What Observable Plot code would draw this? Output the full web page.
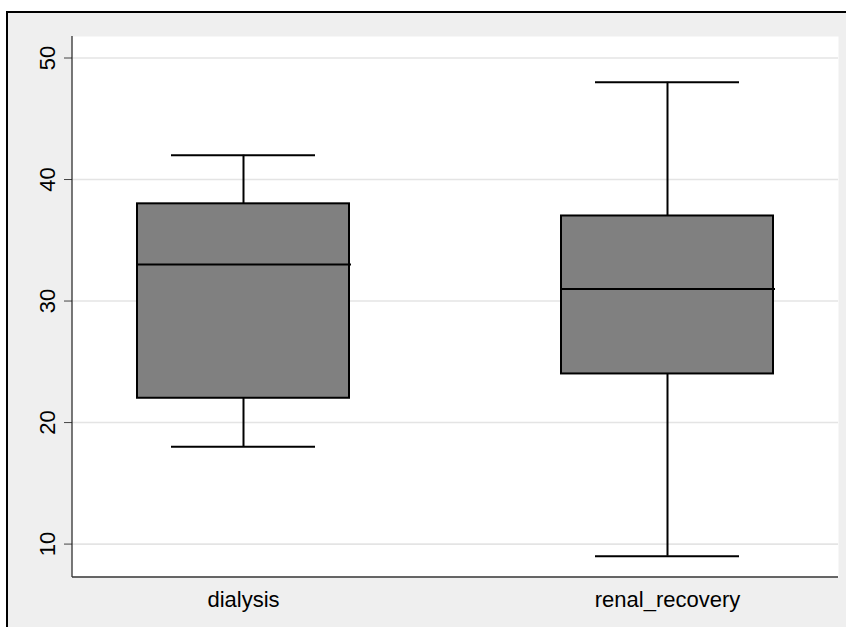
<!DOCTYPE html>
<html>
<head>
<meta charset="utf-8">
<script src="https://cdn.jsdelivr.net/npm/d3@7"></script>
<script src="https://cdn.jsdelivr.net/npm/@observablehq/plot@0.6"></script>
<style>
  html, body { margin: 0; padding: 0; background: #ffffff; }
  #page { position: relative; width: 846px; height: 627px; overflow: hidden; background: #ffffff; }
  #panel { position: absolute; left: 6px; top: 11px; width: 900px; height: 700px;
           border-top: 2px solid #000; border-left: 2px solid #000; background: #efefef; }
  #chart { position: absolute; left: 0; top: 0; }
</style>
</head>
<body>
<div id="page">
  <div id="panel"></div>
  <div id="chart"></div>
</div>
<script>
// Box plot summary per group
const categories = ["dialysis", "renal_recovery"];
const lowerWhisker = [18, 9];
const lowerQuartile = [22, 24];
const medians = [33, 31];
const upperQuartile = [38, 37];
const upperWhisker = [42, 48];
const yTicks = [10, 20, 30, 40, 50];

const stats = categories.map((group, i) => ({
  group,
  min: lowerWhisker[i],
  q1: lowerQuartile[i],
  med: medians[i],
  q3: upperQuartile[i],
  max: upperWhisker[i]
}));

// Axis lines along the left and bottom edges of the plot area
const axisLines = (index, scales, values, dims) => {
  const g = document.createElementNS("http://www.w3.org/2000/svg", "g");
  const left = dims.marginLeft, top = dims.marginTop;
  const right = dims.width - dims.marginRight, bottom = dims.height - dims.marginBottom;
  g.innerHTML =
    `<line x1="${left}" x2="${left}" y1="${top}" y2="${bottom}" stroke="#222" stroke-width="1.2"/>` +
    `<line x1="${left}" x2="${right}" y1="${bottom}" y2="${bottom}" stroke="#333" stroke-width="1.6"/>`;
  return g;
};

const chart = Plot.plot({
  width: 846,
  height: 627,
  marginLeft: 72,
  marginRight: 8,
  marginTop: 36,
  marginBottom: 50,
  style: {
    background: "transparent",
    fontFamily: "'Liberation Sans', Arial, sans-serif",
    fontSize: "22px",
    color: "#000"
  },
  x: { domain: categories, paddingInner: 0.5, paddingOuter: 0.152, label: null },
  y: { domain: [7.25, 51.77], label: null },
  marks: [
    Plot.frame({ fill: "#ffffff", stroke: null }),
    Plot.gridY(yTicks, { stroke: "#e4e4e4", strokeOpacity: 1, strokeWidth: 1.6 }),
    Plot.ruleX(stats, { x: "group", y1: "q3", y2: "max", stroke: "#000", strokeWidth: 2 }),
    Plot.ruleX(stats, { x: "group", y1: "min", y2: "q1", stroke: "#000", strokeWidth: 2 }),
    Plot.tickY(stats, { x: "group", y: "max", insetLeft: 34, insetRight: 34, stroke: "#000", strokeWidth: 2 }),
    Plot.tickY(stats, { x: "group", y: "min", insetLeft: 34, insetRight: 34, stroke: "#000", strokeWidth: 2 }),
    Plot.barY(stats, { x: "group", y1: "q1", y2: "q3", fill: "#808080", stroke: "#000", strokeWidth: 2 }),
    Plot.tickY(stats, { x: "group", y: "med", insetRight: -2, stroke: "#000", strokeWidth: 2 }),
    Plot.axisY(yTicks, { tickRotate: -90, tickSize: 8, tickPadding: 10, stroke: "#444", label: null }),
    Plot.axisX({ tickSize: 0, tickPadding: 14, label: null }),
    axisLines
  ]
});

document.getElementById("chart").appendChild(chart);
</script>
</body>
</html>
